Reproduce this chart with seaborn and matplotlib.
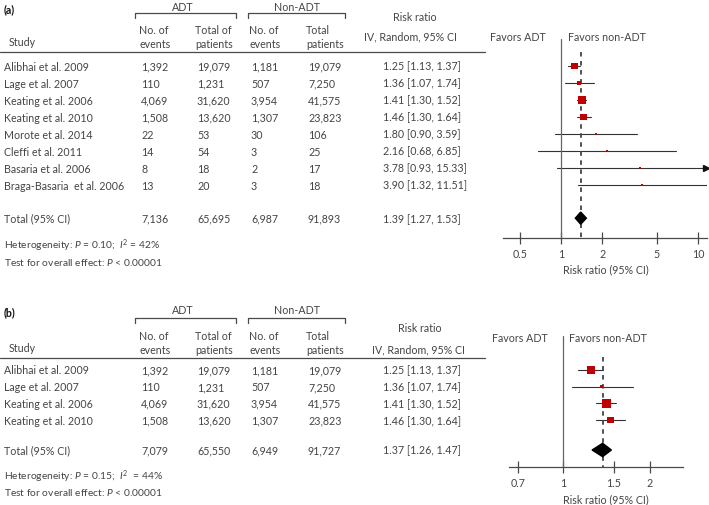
import numpy as np
import pandas as pd
import seaborn as sns
from matplotlib import pyplot as plt
from matplotlib.ticker import NullLocator

# (a) alle Studien
studies_a = ["Alibhai et al. 2009", "Lage et al. 2007", "Keating et al. 2006", "Keating et al. 2010",
             "Morote et al. 2014", "Cleffi et al. 2011", "Basaria et al. 2006", "Braga-Basaria  et al. 2006"]
adt_ev_a = ["1,392", "110", "4,069", "1,508", "22", "14", "8", "13"]
adt_tot_a = ["19,079", "1,231", "31,620", "13,620", "53", "54", "18", "20"]
non_ev_a = ["1,181", "507", "3,954", "1,307", "30", "3", "2", "3"]
non_tot_a = ["19,079", "7,250", "41,575", "23,823", "106", "25", "17", "18"]
rr_a = [1.25, 1.36, 1.41, 1.46, 1.80, 2.16, 3.78, 3.90]
lo_a = [1.13, 1.07, 1.30, 1.30, 0.90, 0.68, 0.93, 1.32]
hi_a = [1.37, 1.74, 1.52, 1.64, 3.59, 6.85, 15.33, 11.51]
weight_a = [22, 8, 30, 20, 3.5, 3, 2.5, 3]
total_a = ["7,136", "65,695", "6,987", "91,893"]
pooled_a = [1.39, 1.27, 1.53]
het_a = "Heterogeneity: $\\it{P}$ = 0.10;  $\\it{I}^{2}$ = 42%"
ticks_a = [0.5, 1, 2, 5, 10]

# (b) nur grosse Studien
studies_b = studies_a[:4]
adt_ev_b = adt_ev_a[:4]
adt_tot_b = adt_tot_a[:4]
non_ev_b = non_ev_a[:4]
non_tot_b = non_tot_a[:4]
rr_b = rr_a[:4]
lo_b = lo_a[:4]
hi_b = hi_a[:4]
weight_b = [25, 5, 37, 19]
total_b = ["7,079", "65,550", "6,949", "91,727"]
pooled_b = [1.37, 1.26, 1.47]
het_b = "Heterogeneity: $\\it{P}$ = 0.15;  $\\it{I}^{2}$  = 44%"
ticks_b = [0.7, 1, 1.5, 2]

sns.set_theme(style="white")
plt.rcParams['font.family'] = ['Lato', 'DejaVu Sans']
plt.rcParams['mathtext.fontset'] = 'custom'
plt.rcParams['mathtext.rm'] = 'Lato'
plt.rcParams['mathtext.it'] = 'Lato:italic'

TXT = '#444444'
LN = '#4a4a4a'
RED = '#c00000'
FS = 7.7
W, H = 709, 506

fig = plt.figure(figsize=(7.09, 5.06), dpi=100)
bg = fig.add_axes([0, 0, 1, 1])
bg.set_xlim(0, W)
bg.set_ylim(H, 0)
bg.axis('off')


def txt(x, y, s, **kw):
    kw.setdefault('fontsize', FS)
    kw.setdefault('color', TXT)
    kw.setdefault('va', 'center')
    bg.text(x, y, s, **kw)


def panel(lab, L, studies, ae, at, ne, nt, rr, lo, hi, w, tot, pooled, het, ticks):
    txt(4, L['label_y'], lab, fontweight='bold', color='#111111')
    txt(183, L['grp_y'], "ADT", ha='center')
    txt(297, L['grp_y'], "Non-ADT", ha='center')
    by = L['bracket_y']
    for x0, x1 in [(135, 236), (248, 345)]:
        bg.plot([x0, x0, x1, x1], [by + 5, by, by, by + 5], color=LN, lw=0.9)
    cols = [139, 195, 249, 306]
    heads = [("No. of", "events"), ("Total of", "patients"), ("No. of", "events"), ("Total", "patients")]
    for x, (h1, h2) in zip(cols, heads):
        txt(x, L['col1_y'], h1)
        txt(x, L['col2_y'], h2)
    txt(9, L['study_y'], "Study")
    txt(L['rr_x'][0], L['rr1_y'], "Risk ratio", ha='center')
    txt(L['rr_x'][1], L['rr2_y'], "IV, Random, 95% CI", ha='center')
    bg.plot([0, 485], [L['rule_y']] * 2, color=LN, lw=0.9)

    def ypx(r):
        return L['row0'] + L['dy'] * r

    for i, s in enumerate(studies):
        y = ypx(i)
        txt(4, y, s)
        for x, v in zip(cols, [ae[i], at[i], ne[i], nt[i]]):
            txt(x + 2, y, v)
        txt(383, y, f"{rr[i]:.2f} [{lo[i]:.2f}, {hi[i]:.2f}]")
    yt = ypx(L['total_row'])
    txt(4, yt, "Total (95% CI)")
    for x, v in zip(cols, tot):
        txt(x + 2, yt, v)
    txt(383, yt, f"{pooled[0]:.2f} [{pooled[1]:.2f}, {pooled[2]:.2f}]")
    txt(4, L['het_y'], het, fontsize=FS - 0.3)
    txt(4, L['test_y'], "Test for overall effect: $\\it{P}$ < 0.00001", fontsize=FS - 0.3)
    txt(L['fav_x'][0], L['fav_y'], "Favors ADT", ha='center')
    txt(L['fav_x'][1], L['fav_y'], "Favors non-ADT", ha='center')
    txt(606, L['xlabel_y'], "Risk ratio (95% CI)", ha='center')

    # Forest plot
    x0, y0, x1, y1 = L['ax_box']
    ax = fig.add_axes([x0 / W, 1 - y1 / H, (x1 - x0) / W, (y1 - y0) / H])
    ax.patch.set_alpha(0)
    xlim = L['xlim']
    ylim = ((y1 - L['row0']) / L['dy'], (y0 - L['row0']) / L['dy'])
    ax.set_xscale('log')
    rows = np.arange(len(studies))
    for r, l, h in zip(rows, lo, hi):
        ax.plot([max(l, xlim[0]), min(h, xlim[1])], [r, r], color='#333333', lw=0.8)
        if h > xlim[1]:
            ax.plot([xlim[1] * 0.985], [r], marker='>', ms=5, color='#111111', clip_on=False)
    ax.axvline(1, color='#666666', lw=0.9)
    ax.plot([pooled[0]] * 2, [-0.8, ylim[0]], color='#444444', lw=1.3, dashes=(2.5, 2.5))
    df = pd.DataFrame({'rr': rr, 'row': rows, 'w': w})
    sns.scatterplot(data=df, x='rr', y='row', size='w', sizes=(0, 110), size_norm=(0, 100),
                    marker='s', color=RED, linewidth=0, legend=False, ax=ax, zorder=3)
    tr = L['total_row']
    dh = L['dh']
    ax.fill([pooled[1], pooled[0], pooled[2], pooled[0]], [tr, tr - dh, tr, tr + dh],
            color='black', zorder=4)
    ax.set_xlim(xlim)
    ax.set_ylim(ylim)
    ax.set_xticks(ticks)
    ax.set_xticklabels([f"{t:g}" for t in ticks])
    ax.xaxis.set_minor_locator(NullLocator())
    ax.set_yticks([])
    ax.set_xlabel("")
    ax.set_ylabel("")
    for sp in ['top', 'left', 'right']:
        ax.spines[sp].set_visible(False)
    ax.spines['bottom'].set_color(LN)
    ax.spines['bottom'].set_linewidth(0.9)
    ax.tick_params(axis='x', direction='inout', length=8, width=0.9, color=LN,
                   labelcolor=TXT, labelsize=FS, pad=3, bottom=True)


lay_a = dict(label_y=10, grp_y=7, bracket_y=14, col1_y=30, col2_y=44, study_y=42, rule_y=53,
             rr1_y=17, rr2_y=37, rr_x=(415, 411), fav_y=37, fav_x=(518, 607), row0=67, dy=17,
             total_row=8.95, dh=0.36, het_y=246, test_y=262, xlabel_y=270,
             ax_box=(503, 40, 707, 239), xlim=(0.377, 11.6))
lay_b = dict(label_y=313, grp_y=311, bracket_y=319, col1_y=336, col2_y=350, study_y=349, rule_y=359,
             rr1_y=328, rr2_y=350, rr_x=(420, 419), fav_y=338, fav_x=(520, 608), row0=371, dy=16.7,
             total_row=4.79, dh=0.4, het_y=477, test_y=493, xlabel_y=500,
             ax_box=(509, 337, 683, 468), xlim=(0.65, 2.6))

panel("(a)", lay_a, studies_a, adt_ev_a, adt_tot_a, non_ev_a, non_tot_a, rr_a, lo_a, hi_a,
      weight_a, total_a, pooled_a, het_a, ticks_a)
panel("(b)", lay_b, studies_b, adt_ev_b, adt_tot_b, non_ev_b, non_tot_b, rr_b, lo_b, hi_b,
      weight_b, total_b, pooled_b, het_b, ticks_b)

fig.savefig("out.png", dpi=100)
